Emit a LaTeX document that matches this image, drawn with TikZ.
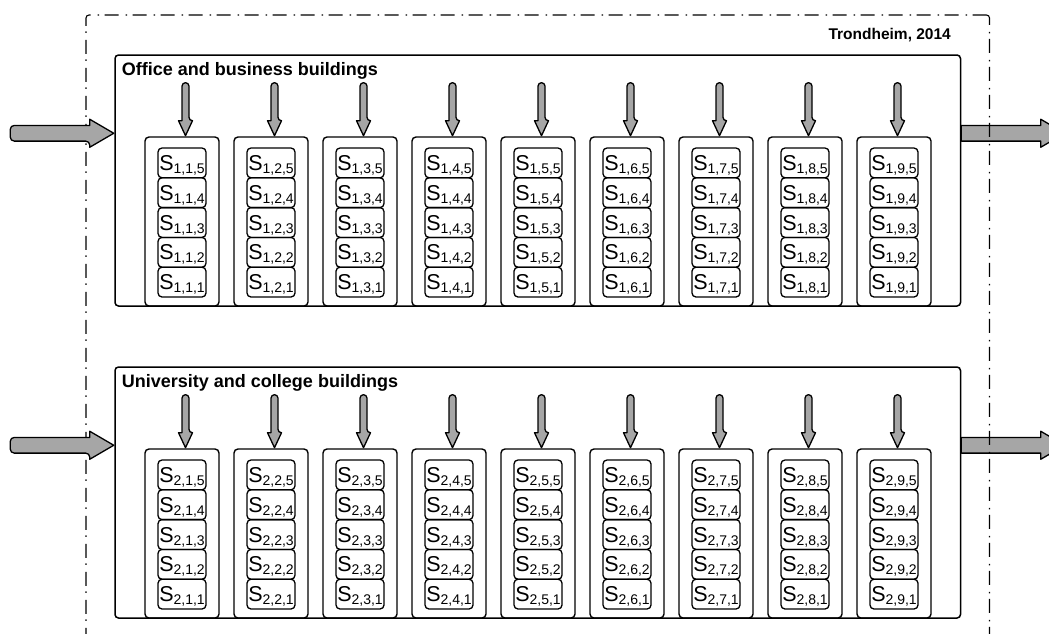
\documentclass[tikz,border=0pt]{standalone}
\usepackage{fontspec}
\setmainfont{Liberation Sans}
\usetikzlibrary{calc}
\definecolor{arrowgray}{RGB}{166,166,166}
\tikzset{
  outerframe/.style={draw, line width=1.1pt, dash pattern=on 14pt off 5.5pt on 1.5pt off 7pt, rounded corners=3pt, minimum width=903.5pt, minimum height=645pt, inner sep=0pt},
  groupbox/.style={draw, line width=1.5pt, rounded corners=3.5pt, minimum width=845.5pt, minimum height=251pt, inner sep=0pt},
  colbox/.style={draw, line width=1.4pt, rounded corners=4pt, minimum width=74pt, minimum height=169pt, inner sep=0pt},
  cellbox/.style={draw, line width=1.3pt, rounded corners=4pt, minimum width=48pt, minimum height=29.8pt, inner sep=0pt, text height=15pt, text depth=0pt},
  blockarrow/.style={draw, fill=arrowgray, line width=1.3pt, line join=round},
  grouptitle/.style={font=\bfseries\fontsize{18}{18}\selectfont, anchor=base west, inner sep=0pt},
  placetitle/.style={font=\bfseries\fontsize{15.5}{15.5}\selectfont, anchor=base east, inner sep=0pt},
}
\newcommand{\mycellname}[3]{{\fontsize{21.5}{21.5}\selectfont S}\raisebox{-3pt}{\fontsize{14}{14}\selectfont #1,#2,#3}}
\begin{document}
\begin{tikzpicture}[x=1pt, y=-1pt]
\useasboundingbox (0,0) rectangle (1049,633);
\clip (0,0) rectangle (1049,633);
\foreach \r/\yo in {1/0, 2/312} {
  \node[groupbox] (row\r) at (537.75, 180.5+\yo) {};
  \foreach \j in {1,...,9} {
    \node[colbox] (col-\r-\j) at ({182+89*(\j-1)}, 221.5+\yo) {};
    \foreach \k in {1,...,5} {
      \node[cellbox] (cell-\r-\j-\k) at ({182+89*(\j-1)}, {148+(5-\k)*29.8+14.9+\yo}) {\mycellname{\r}{\j}{\k}};
    }
    \draw[blockarrow] ($(col-\r-\j.north)+(3.5,-0.6)$) coordinate (tip-\r-\j) -- ++(-7,-15) -- ++(3.5,0) {[rounded corners=3.4pt] -- ++(0,-38) -- ++(7,0) -- ++(0,38)} -- ++(3.5,0) -- cycle;
  }
  \draw[blockarrow] ($(row\r.north east)+(0,71.15)$) coordinate (out-\r) -- ++(79.5,0) -- ++(0,-6.15) -- ++(24,14) -- ++(-24,14) -- ++(0,-6.15) -- ++(-79.5,0) -- cycle;
}
\node[grouptitle] (title1) at ($(row1.north west)+(7.5,21)$) {Office and business buildings};
\node[grouptitle] (title2) at ($(row2.north west)+(7.5,21)$) {University and college buildings};
\node[outerframe] (outer) at (537.75, 337.5) {};
\node[placetitle] (place) at ($(outer.north east)+(-39,25)$) {Trondheim, 2014};
\foreach \r in {1,2} {
  \draw[blockarrow] ($(row\r.north west)+(-0.5,79)$) coordinate (in-\r) -- ++(-24,-14) -- ++(0,6.15) {[rounded corners=4pt] -- ++(-79.5,0) -- ++(0,15.7) -- ++(79.5,0)} -- ++(0,6.15) -- cycle;
}
\end{tikzpicture}
\end{document}
